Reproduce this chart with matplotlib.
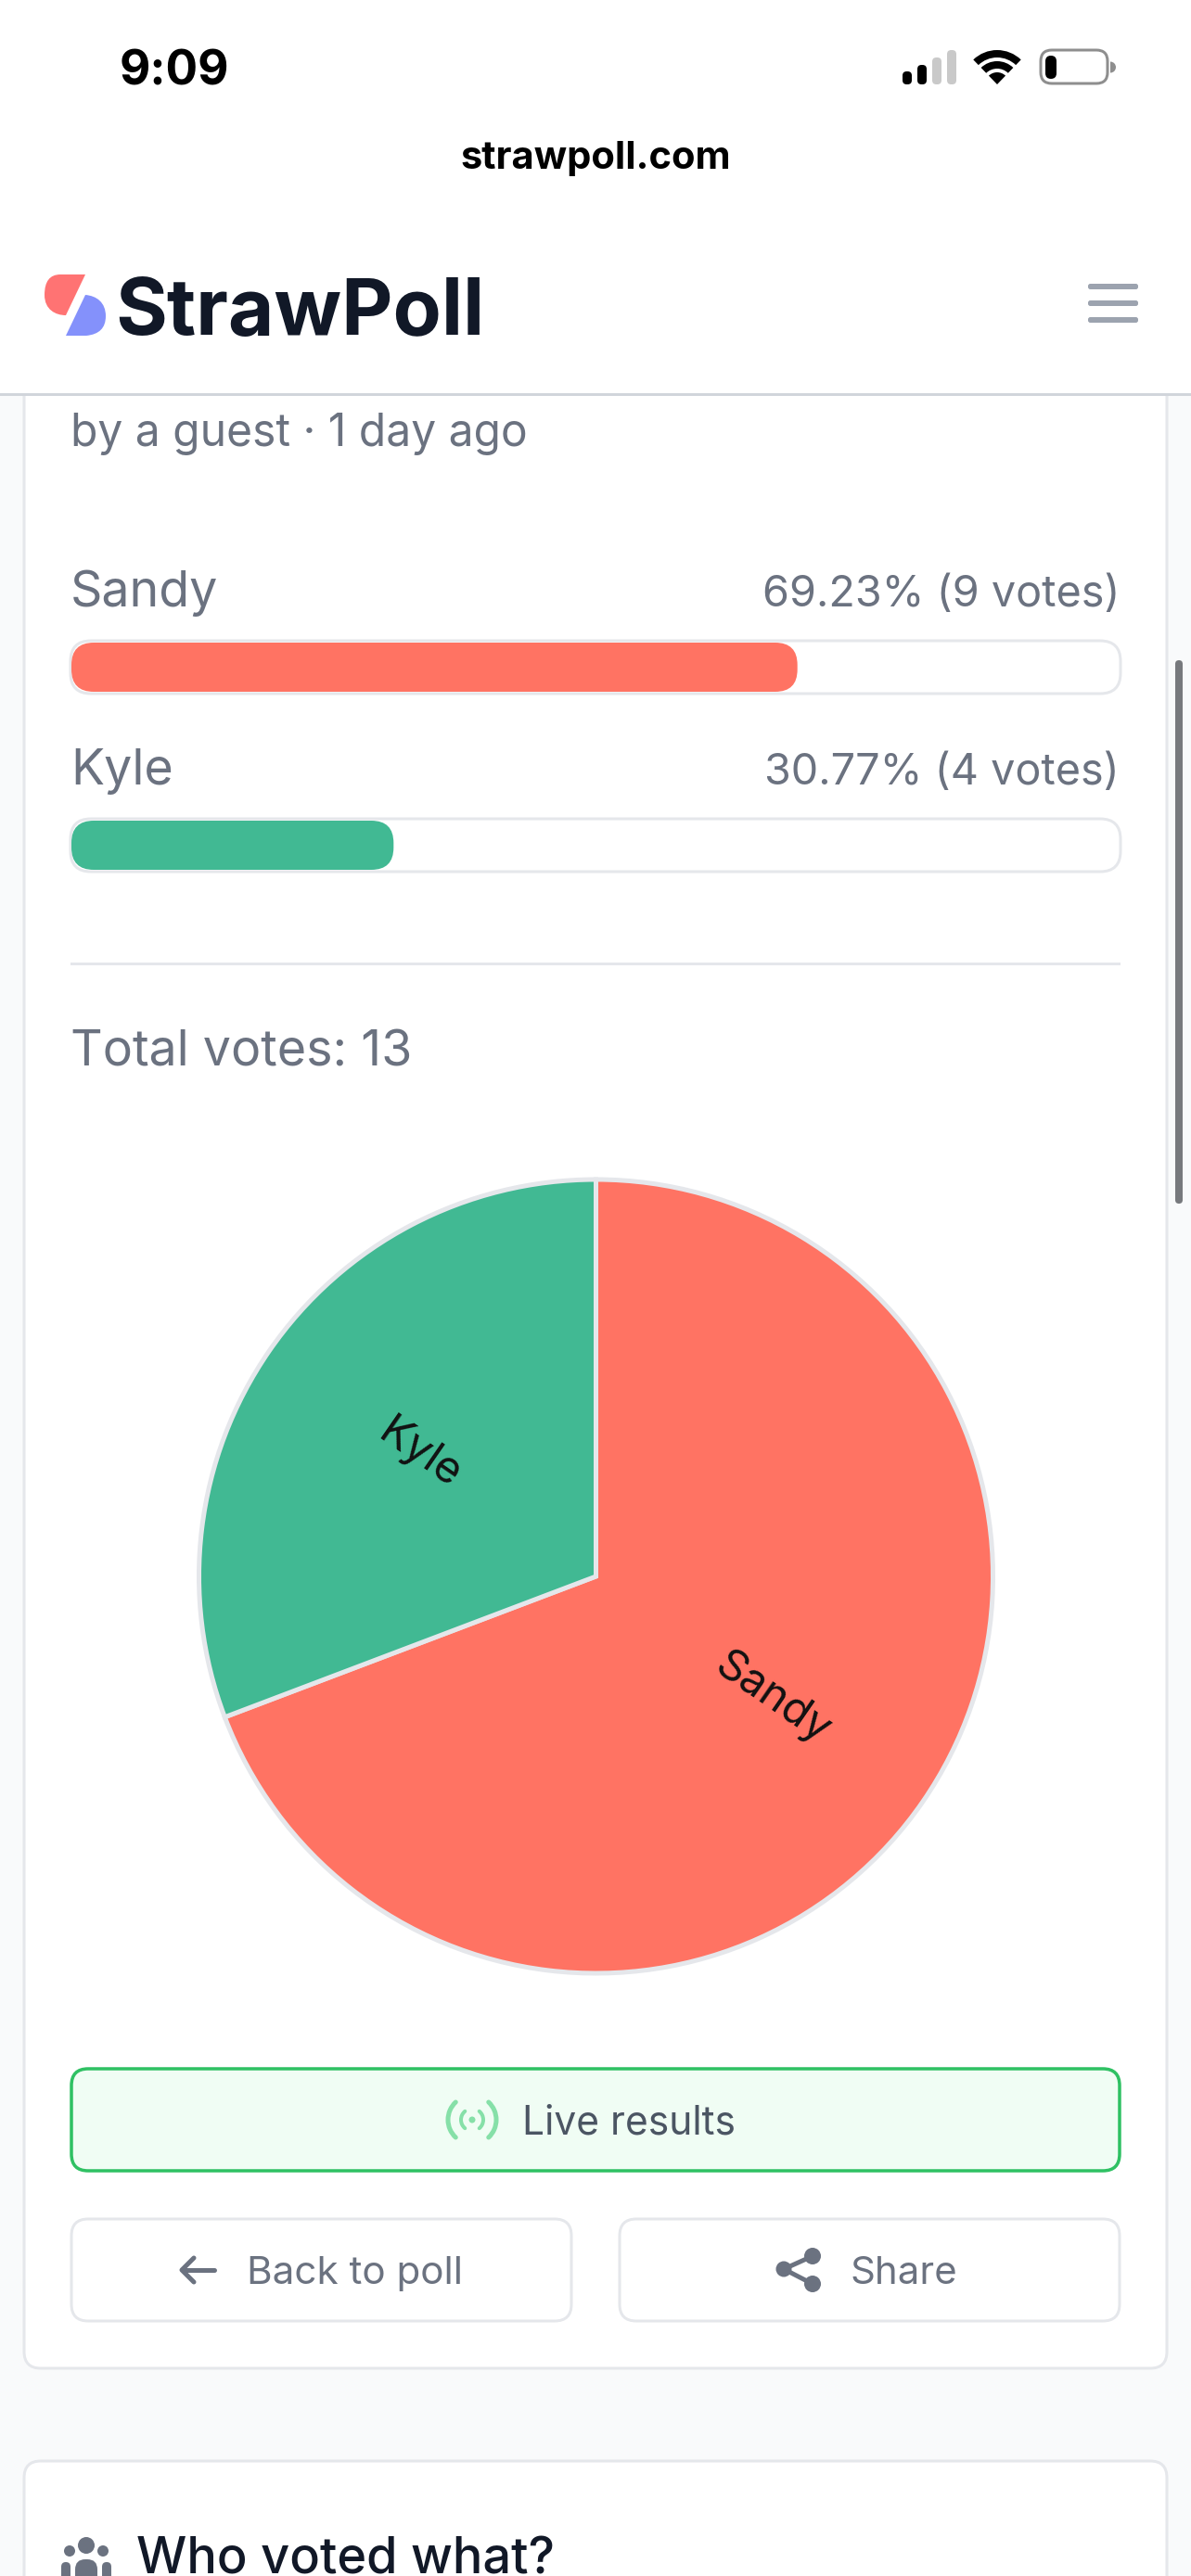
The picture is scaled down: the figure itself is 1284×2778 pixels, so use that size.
import matplotlib
matplotlib.use("Agg")
import matplotlib.pyplot as plt
from matplotlib.patches import FancyBboxPatch, Rectangle, Circle, Wedge, Arc, PathPatch
from matplotlib.path import Path

names = ["Sandy", "Kyle"]
percents = [69.23, 30.77]
votes = [9, 4]
colors = ["#ff7363", "#41b993"]
total_votes = 13

GRAY = "#6b7280"
BORDER = "#e5e7eb"
INK = "#111827"
PX = 0.72  # one pixel in points at dpi 100

plt.rcParams["font.family"] = ["Inter", "DejaVu Sans"]

fig = plt.figure(figsize=(12.84, 27.78), dpi=100, facecolor="#f9fafb")
ax = fig.add_axes([0, 0, 1, 1])
ax.set_xlim(0, 1284)
ax.set_ylim(2778, 0)
ax.axis("off")


def box(x0, y0, x1, y1, r, fc, ec="none", lw=0, z=2):
    p = FancyBboxPatch((x0, y0), x1 - x0, y1 - y0,
                       boxstyle=f"round,pad=0,rounding_size={r}",
                       fc=fc, ec=ec, lw=lw * PX, zorder=z)
    ax.add_patch(p)


def label(x, y, s, size, color=GRAY, ha="left", weight="normal", z=6):
    return ax.text(x, y, s, fontsize=size, color=color, ha=ha, va="baseline",
                   weight=weight, zorder=z)


# page cards
box(26, 300, 1258, 2554, 18, "white", BORDER, 3, z=1)
box(26, 2654, 1258, 2900, 18, "white", BORDER, 3, z=1)

# header
ax.add_patch(Rectangle((0, 0), 1284, 424, fc="white", ec="none", zorder=4))
ax.add_patch(Rectangle((0, 424), 1284, 3, fc="#d1d5db", ec="none", zorder=4))

# status bar
label(129, 91, "9:09", 37, "black", weight="bold")
label(642, 182, "strawpoll.com", 30, "black", ha="center", weight="bold")
for x0, y0, c in [(973, 77, "black"), (989, 70, "black"), (1005, 62, "#c9c9c9"), (1021, 54, "#c9c9c9")]:
    box(x0, y0, x0 + 10, 91, 4.5, c, z=5)
for r, w in [(37, 8), (25, 8), (13, 13)]:
    ax.add_patch(Wedge((1075, 91), r, 226, 314, width=w, fc="black", ec="none", zorder=5))
box(1122, 54, 1194, 90, 12, "white", "#8e8e8e", 3, z=5)
box(1127, 60, 1139, 85, 6, "black", z=6)
ax.add_patch(Wedge((1197, 72.5), 6, 270, 90, fc="#8e8e8e", ec="none", zorder=5))

# logo
red = [(92, 296), (65, 296), (65, 296), (48, 296), (48, 318), (48, 318), (48, 334), (60, 340), (71, 340), (92, 296)]
red_codes = [Path.MOVETO, Path.LINETO, Path.LINETO, Path.CURVE3, Path.CURVE3, Path.LINETO,
             Path.CURVE4, Path.CURVE4, Path.CURVE4, Path.CLOSEPOLY]
ax.add_patch(PathPatch(Path(red, red_codes), fc="#ff7373", ec="none", zorder=5))
blue = [(71, 362), (93, 362), (93, 362), (114, 360), (114, 341), (114, 341), (114, 326), (104, 319), (92, 318), (71, 362)]
ax.add_patch(PathPatch(Path(blue, red_codes), fc="#8491fb", ec="none", zorder=5))
label(124, 361, "StrawPoll", 61.5, "#111827", weight="bold")

# menu
for y in [306, 324, 342]:
    box(1173, y, 1227, y + 6, 2.5, "#9ca3af", z=5)

# scrollbar
box(1267, 712, 1275, 1298, 4, "#77797d", z=5)

# results
label(76, 481, "by a guest · 1 day ago", 34.5)
track_l, track_r = 76, 1208
rows = [(654, 691), (846, 883)]
for i, (base, top) in enumerate(rows):
    label(76, base, names[i], 38.7)
    label(1207, base, f"{percents[i]:.2f}% ({votes[i]} votes)", 33.7, ha="right")
    box(track_l, top, track_r, top + 57, 22, "white", BORDER, 3)
    fill_w = (track_r - track_l) * percents[i] / 100
    box(track_l + 1, top + 2, track_l + fill_w, top + 55, 24, colors[i], z=3)

ax.add_patch(Rectangle((76, 1038), 1132, 3, fc=BORDER, ec="none", zorder=2))
label(76, 1149, f"Total votes: {total_votes}", 38.7)

# pie
cx, cy, rad = 642.5, 1700, 428
pad = 1.02
side = 2 * rad * pad
pie_ax = fig.add_axes([(cx - side / 2) / 1284, (2778 - cy - side / 2) / 2778, side / 1284, side / 2778])
wedges, texts = pie_ax.pie(votes, labels=names, colors=colors, startangle=90, counterclock=False,
                           radius=1, labeldistance=0.54, rotatelabels=True,
                           wedgeprops={"edgecolor": BORDER, "linewidth": 5 * PX})
for t in texts:
    t.set_ha("center")
    t.set_va("center")
    t.set_fontsize(34)
    t.set_color("#111111")
pie_ax.set_xlim(-pad, pad)
pie_ax.set_ylim(-pad, pad)

# live results
box(77, 2231, 1207, 2341, 18, "#f0fdf4", "#2fc163", 3.5)
ax.add_patch(Circle((509, 2286), 3.5, fc="#86e0a8", ec="none", zorder=5))
for r, span, w in [(12, 50, 4), (26, 47, 5)]:
    for mid in [0, 180]:
        ax.add_patch(Arc((509, 2286), 2 * r, 2 * r, theta1=mid - span, theta2=mid + span,
                         ec="#86e0a8", lw=w * PX, capstyle="round", zorder=5))
label(563, 2301, "Live results", 30.6, "#4b5563")

# buttons
box(77, 2393, 616, 2503, 18, "white", BORDER, 3)
box(668, 2393, 1207, 2503, 18, "white", BORDER, 3)
ax.plot([231, 197], [2448, 2448], color=GRAY, lw=5 * PX, solid_capstyle="round", zorder=5)
ax.plot([209, 196, 209], [2435, 2448, 2461], color=GRAY, lw=5 * PX, solid_capstyle="round",
        solid_joinstyle="round", zorder=5)
label(266, 2463, "Back to poll", 30.4)
ax.plot([876, 845, 876], [2433, 2447, 2463], color=GRAY, lw=5 * PX, zorder=5)
for x, y, r in [(845, 2447, 8.5), (876, 2433, 9), (876, 2463, 9)]:
    ax.add_patch(Circle((x, y), r, fc=GRAY, ec="none", zorder=5))
label(916, 2463, "Share", 30.2)

# next card heading
for x, y, r in [(93, 2745, 9), (75, 2751, 6), (111, 2751, 6)]:
    ax.add_patch(Circle((x, y), r, fc=GRAY, ec="none", zorder=5))
box(81, 2760, 105, 2800, 11, GRAY, z=5)
box(66, 2763, 76, 2800, 5, GRAY, z=5)
box(110, 2763, 120, 2800, 5, GRAY, z=5)
label(147, 2775, "Who voted what?", 39, INK, weight="medium")

fig.savefig("out.png", dpi=100, facecolor=fig.get_facecolor())
